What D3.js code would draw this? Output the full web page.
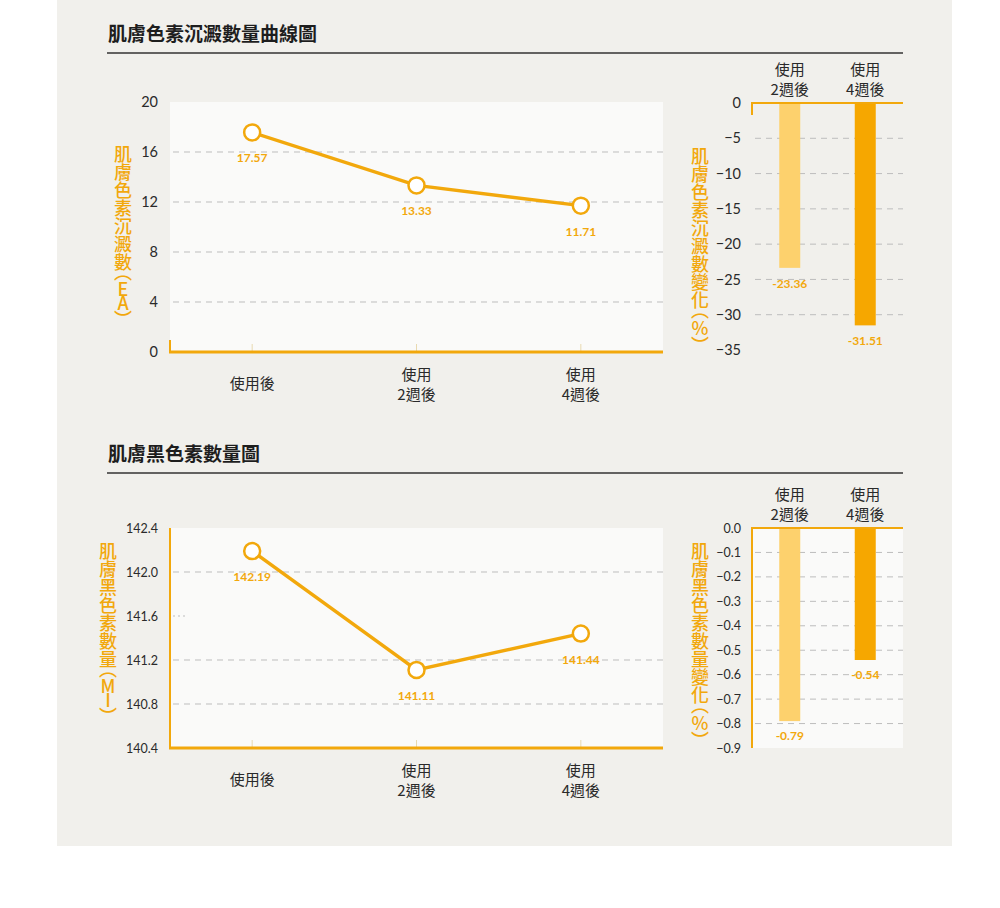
<!DOCTYPE html>
<html><head><meta charset="utf-8">
<script src="https://cdn.jsdelivr.net/npm/d3@7"></script>
<style>
html,body{margin:0;padding:0;background:#fff;}
svg{display:block;}
.cjk{font-family:"Noto Sans CJK TC","Noto Sans CJK SC",sans-serif;}
.num{font-family:"Lato","Noto Sans",sans-serif;}
.vt{writing-mode:vertical-rl;text-orientation:upright;}
</style></head><body>
<svg id="c" width="1000" height="908"></svg>
<script>
// ---- data ----
const lineCategories = ["使用後", "使用\n2週後", "使用\n4週後"];
const barCategories = ["使用\n2週後", "使用\n4週後"];
const pigmentValues = [17.57, 13.33, 11.71];
const pigmentChange = [-23.36, -31.51];
const melaninValues = [142.19, 141.11, 141.44];
const melaninChange = [-0.79, -0.54];
const pigmentTicks = [0, 4, 8, 12, 16, 20];
const pigmentChangeTicks = [0, -5, -10, -15, -20, -25, -30, -35];
const melaninTicks = [140.4, 140.8, 141.2, 141.6, 142.0, 142.4];
const melaninChangeTicks = [0, -0.1, -0.2, -0.3, -0.4, -0.5, -0.6, -0.7, -0.8, -0.9];
const titles = ["肌膚色素沉澱數量曲線圖", "肌膚黑色素數量圖"];
const yTitles = [["肌膚色素沉澱數（EA）", "肌膚色素沉澱數變化（%）"], ["肌膚黑色素數量（MI）", "肌膚黑色素數量變化（%）"]];

const ORANGE = "#F2A80C", LIGHT = "#FDD16D", DARK = "#F6A700";
const svg = d3.select("#c");
svg.append("rect").attr("x", 57).attr("y", 0).attr("width", 895).attr("height", 846).attr("fill", "#F1F0EC");

// vertical title: one text element in vertical writing mode, glyph centres set by a y list
function verticalText(g, str, cx, top) {
  const ys = [];
  let y = top;
  Array.from(str).forEach(ch => {
    const paren = ch === "（" || ch === "）";
    const cjk = /[\u3400-\u9fff]/.test(ch);
    const adv = paren ? 11 : cjk ? 18 : (ch === "%" ? 16 : 14);
    let cy = y + adv / 2;
    if (ch === "（") cy -= 4;
    if (ch === "）") cy += 4;
    ys.push(cy.toFixed(1));
    y += adv;
  });
  g.append("text").attr("class", "cjk vt").attr("font-size", 18).attr("font-weight", 500).attr("fill", ORANGE)
    .attr("text-anchor", "middle").attr("x", cx).attr("y", ys.join(" ")).text(str);
}

function section(cfg) {
  const g = svg.append("g");
  g.append("text").attr("class", "cjk").attr("x", 108).attr("y", cfg.titleY)
    .attr("font-size", 19).attr("font-weight", 700).attr("fill", "#1e1e1e").text(cfg.title);
  g.append("line").attr("x1", 107).attr("x2", 903).attr("y1", cfg.titleY + 12).attr("y2", cfg.titleY + 12)
    .attr("stroke", "#333").attr("stroke-width", 1.3);

  // ---------- line chart ----------
  const L = {x0: 170, x1: 663, y0: cfg.top, y1: cfg.bottom};
  const x = d3.scaleBand().domain(lineCategories).range([L.x0, L.x1]);
  const y = d3.scaleLinear().domain(cfg.lineDomain).range([L.y1, L.y0]);
  g.append("rect").attr("x", L.x0).attr("y", L.y0).attr("width", L.x1 - L.x0).attr("height", L.y1 - L.y0).attr("fill", "#FAFAF9");
  cfg.lineTicks.forEach(t => {
    if (t === cfg.lineDomain[0] || t === cfg.lineDomain[1]) return;
    const short = cfg.shortGrid && Math.abs(t - cfg.shortGrid) < 1e-9;
    g.append("line").attr("x1", L.x0 + 3).attr("x2", short ? L.x0 + 16 : L.x1).attr("y1", y(t)).attr("y2", y(t))
      .attr("stroke", "#bdbdbd").attr("stroke-width", 1).attr("stroke-dasharray", short ? "2,3" : "6,5");
  });
  const yAxis = d3.axisLeft(y).tickValues(cfg.lineTicks).tickSize(0).tickPadding(0).tickFormat(cfg.lineFmt);
  const ya = g.append("g").attr("transform", `translate(${L.x0 - 12},0)`).call(yAxis);
  ya.select(".domain").remove();
  ya.selectAll("text").attr("class", "num").attr("font-size", cfg.tickSize).attr("fill", "#2a2a2a");
  g.append("line").attr("x1", L.x0).attr("x2", L.x0).attr("y1", cfg.fullLeft ? L.y0 : L.y1 - 12).attr("y2", L.y1)
    .attr("stroke", ORANGE).attr("stroke-width", 2);
  lineCategories.forEach(c => {
    g.append("line").attr("x1", x(c) + x.bandwidth() / 2).attr("x2", x(c) + x.bandwidth() / 2)
      .attr("y1", L.y1 - 8).attr("y2", L.y1).attr("stroke", "#e8d9b0").attr("stroke-width", 1);
  });
  g.append("line").attr("x1", L.x0 - 1).attr("x2", L.x1).attr("y1", L.y1).attr("y2", L.y1)
    .attr("stroke", ORANGE).attr("stroke-width", 3);
  lineCategories.forEach(c => {
    const lines = c.split("\n");
    const t = g.append("text").attr("class", "cjk").attr("text-anchor", "middle").attr("font-size", 15).attr("fill", "#2a2a2a");
    const baseY = lines.length === 1 ? L.y1 + 37 : L.y1 + 28;
    lines.forEach((s, i) => t.append("tspan").attr("x", x(c) + x.bandwidth() / 2).attr("y", baseY + i * 20).text(s));
  });
  const pts = cfg.lineValues.map((v, i) => [x(lineCategories[i]) + x.bandwidth() / 2, y(v)]);
  g.append("path").attr("d", d3.line()(pts)).attr("fill", "none").attr("stroke", ORANGE).attr("stroke-width", 3.5);
  pts.forEach((p, i) => {
    g.append("circle").attr("cx", p[0]).attr("cy", p[1]).attr("r", 8).attr("fill", "#fff").attr("stroke", ORANGE).attr("stroke-width", 2.5);
    g.append("text").attr("class", "num").attr("x", p[0]).attr("y", p[1] + 30).attr("text-anchor", "middle")
      .attr("font-size", 12).attr("font-weight", 700).attr("fill", ORANGE).text(cfg.lineValues[i].toFixed(2));
  });
  verticalText(g, cfg.yTitles[0], cfg.yTitleX, cfg.yTitleY);

  // ---------- bar chart ----------
  const B = {x0: 752, x1: 903, y0: cfg.barTop, y1: cfg.barBottom};
  const bx = d3.scaleBand().domain(barCategories).range([B.x0, B.x1]);
  const by = d3.scaleLinear().domain(cfg.barDomain).range([B.y0, B.y1]);
  if (cfg.barBg) g.append("rect").attr("x", B.x0).attr("y", B.y0).attr("width", B.x1 - B.x0).attr("height", B.y1 - B.y0).attr("fill", "#FAFAF9");
  cfg.barTicks.forEach(t => {
    if (t === 0 || t === cfg.barDomain[1]) return;
    g.append("line").attr("x1", B.x0 + 3).attr("x2", B.x1).attr("y1", by(t)).attr("y2", by(t))
      .attr("stroke", "#bdbdbd").attr("stroke-width", 1).attr("stroke-dasharray", "6,5");
  });
  const byAxis = d3.axisLeft(by).tickValues(cfg.barTicks).tickSize(0).tickPadding(0).tickFormat(cfg.barFmt);
  const bya = g.append("g").attr("transform", `translate(${B.x0 - 11},0)`).call(byAxis);
  bya.select(".domain").remove();
  bya.selectAll("text").attr("class", "num").attr("font-size", cfg.barTickSize).attr("fill", "#2a2a2a");
  const bw = 21;
  cfg.barValues.forEach((v, i) => {
    const cx = bx(barCategories[i]) + bx.bandwidth() / 2;
    g.append("rect").attr("x", cx - bw / 2).attr("y", by(0)).attr("width", bw).attr("height", by(v) - by(0))
      .attr("fill", i === 0 ? LIGHT : DARK);
    g.append("text").attr("class", "num").attr("x", cx).attr("y", by(v) + cfg.barLabelOff).attr("text-anchor", "middle")
      .attr("font-size", 12).attr("font-weight", 700).attr("fill", ORANGE).text(cfg.barValues[i].toFixed(2));
    const lines = barCategories[i].split("\n");
    const t = g.append("text").attr("class", "cjk").attr("text-anchor", "middle").attr("font-size", 15).attr("fill", "#2a2a2a");
    lines.forEach((s, j) => t.append("tspan").attr("x", cx).attr("y", B.y0 - 28 + j * 20).text(s));
  });
  g.append("line").attr("x1", B.x0).attr("x2", B.x0).attr("y1", B.y0).attr("y2", cfg.fullLeft ? B.y1 : B.y0 + 12)
    .attr("stroke", ORANGE).attr("stroke-width", 2);
  g.append("line").attr("x1", B.x0 - 1).attr("x2", B.x1).attr("y1", B.y0).attr("y2", B.y0)
    .attr("stroke", ORANGE).attr("stroke-width", 2);
  verticalText(g, cfg.yTitles[1], 700, cfg.yTitle2Y);
}

section({
  title: titles[0], titleY: 41, top: 102, bottom: 352, lineDomain: [0, 20], lineTicks: pigmentTicks,
  lineFmt: d3.format("d"), tickSize: 14.5, lineValues: pigmentValues, fullLeft: false,
  yTitles: yTitles[0], yTitleX: 123, yTitleY: 145, yTitle2Y: 147,
  barTop: 103, barBottom: 350, barDomain: [0, -35], barTicks: pigmentChangeTicks, barFmt: d3.format("d"),
  barTickSize: 14.5, barValues: pigmentChange, barLabelOff: 20, barBg: false
});
section({
  title: titles[1], titleY: 461, top: 528, bottom: 748, lineDomain: [140.4, 142.4], lineTicks: melaninTicks,
  lineFmt: d3.format(".1f"), tickSize: 12.5, lineValues: melaninValues, fullLeft: true, shortGrid: 141.6,
  yTitles: yTitles[1], yTitleX: 108, yTitleY: 542, yTitle2Y: 542,
  barTop: 528, barBottom: 748, barDomain: [0, -0.9], barTicks: melaninChangeTicks, barFmt: d3.format(".1f"),
  barTickSize: 12.5, barValues: melaninChange, barLabelOff: 19, barBg: true
});
</script>
</body></html>
